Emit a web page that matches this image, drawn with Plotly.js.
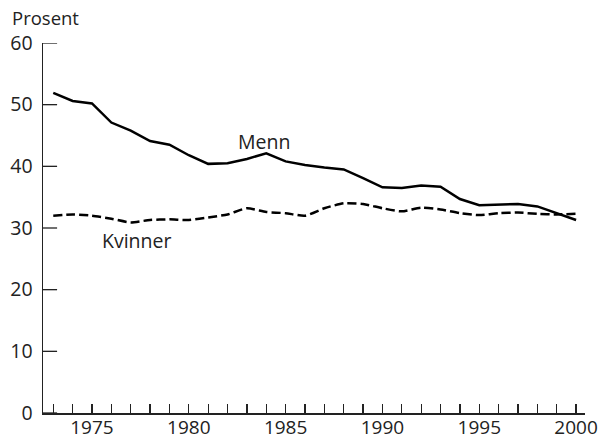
<!DOCTYPE html>
<html><head><meta charset="utf-8">
<script src="https://cdn.plot.ly/plotly-3.0.1.min.js"></script>
<style>html,body{margin:0;padding:0;background:#fff}</style>
</head><body>
<div id="chart" style="width:601px;height:441px"></div>
<script>
const years = [1973,1974,1975,1976,1977,1978,1979,1980,1981,1982,1983,1984,1985,1986,1987,1988,1989,1990,1991,1992,1993,1994,1995,1996,1997,1998,1999,2000];
const menn = [51.9,50.6,50.2,47.1,45.8,44.1,43.5,41.8,40.4,40.5,41.2,42.1,40.8,40.2,39.8,39.5,38.1,36.6,36.5,36.9,36.7,34.7,33.7,33.8,33.9,33.5,32.4,31.3];
const kvinner = [32.0,32.2,32.0,31.5,30.9,31.3,31.4,31.3,31.7,32.2,33.2,32.6,32.4,32.0,33.2,34.0,33.9,33.2,32.7,33.3,33.0,32.4,32.1,32.4,32.5,32.3,32.2,32.3];
const yTicks = [0,10,20,30,40,50,60];
const xTickVals = [1975,1980,1985,1990,1995,2000];
const xMinor = years;

const font = "Open Sans, Noto Sans, sans-serif";
const traces = [
  {x: years, y: menn, mode: 'lines', line: {color: '#000', width: 2.5}, hoverinfo: 'skip'},
  {x: years, y: kvinner, mode: 'lines', line: {color: '#000', width: 2.5, dash: '9px,4px', shape: 'spline', smoothing: 0.6}, hoverinfo: 'skip'}
];
const yTickShapes = yTicks.map(v => ({
  type: 'line', xref: 'x domain', yref: 'y', x0: 0, x1: 0.026, y0: v, y1: v,
  line: {color: '#222', width: 1.3}
}));
const layout = {
  width: 601, height: 441,
  margin: {l: 43, r: 16, t: 43, b: 28},
  paper_bgcolor: '#fff', plot_bgcolor: '#fff',
  showlegend: false,
  font: {family: font, size: 19, color: '#222'},
  xaxis: {
    range: [1972.47, 2000.46], showgrid: false, zeroline: false,
    showline: true, linecolor: '#222', linewidth: 1.5,
    tickmode: 'array', tickvals: xMinor, ticktext: xMinor.map(y => xTickVals.includes(y) ? String(y) : ''),
    ticks: 'inside', ticklen: 9, tickcolor: '#222', tickwidth: 1.2,
    ticklabelstandoff: -3,
    tickfont: {family: font, size: 19, color: '#222'}
  },
  yaxis: {
    range: [0, 60], showgrid: false, zeroline: false,
    showline: true, linecolor: '#222', linewidth: 1.5,
    tickmode: 'array', tickvals: yTicks, ticktext: yTicks.map(String),
    ticks: '', ticklabelstandoff: 5,
    tickfont: {family: font, size: 19.5, color: '#222'}
  },
  shapes: yTickShapes,
  annotations: [
    {text: 'Prosent', xref: 'paper', yref: 'paper', x: -0.06, y: 1.03, xanchor: 'left', yanchor: 'bottom', showarrow: false, font: {family: font, size: 18.5, color: '#222'}},
    {text: 'Menn', xref: 'x', yref: 'y', x: 1983.88, y: 44.0, showarrow: false, font: {family: font, size: 19.5, color: '#222'}},
    {text: 'Kvinner', xref: 'x', yref: 'y', x: 1977.3, y: 28.0, showarrow: false, font: {family: font, size: 19.5, color: '#222'}}
  ]
};
Plotly.newPlot('chart', traces, layout, {staticPlot: true, displayModeBar: false});
</script>
</body></html>
